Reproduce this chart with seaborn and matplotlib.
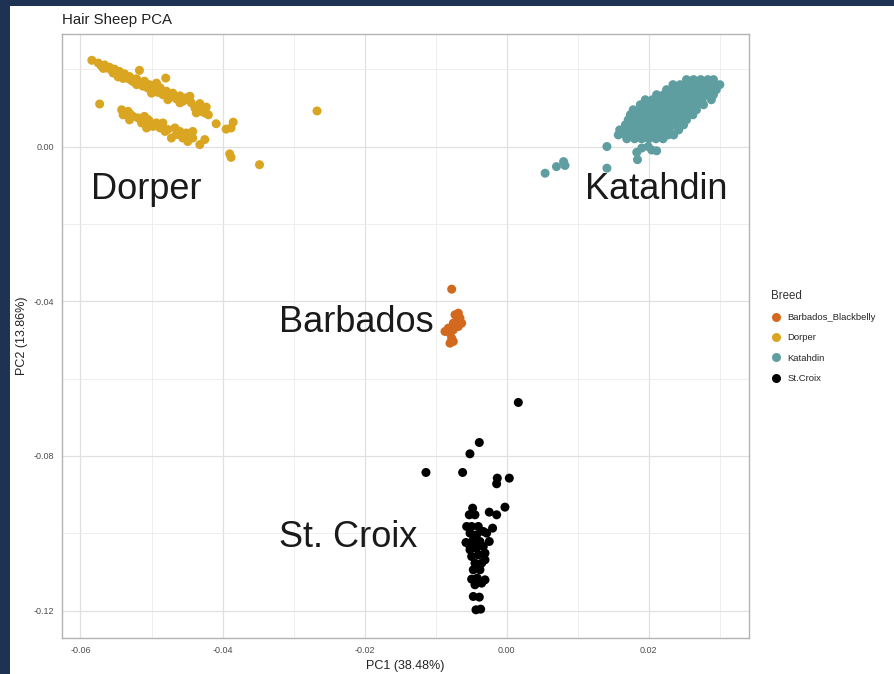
import pandas as pd
import matplotlib
matplotlib.use("Agg")
import matplotlib.pyplot as plt
import seaborn as sns
from matplotlib.patches import Rectangle
from matplotlib.ticker import MultipleLocator

# -----------------------------
# PCA coordinates
# -----------------------------
dorper_pc1 = [-0.0584, -0.0575, -0.0571, -0.0566, -0.0563, -0.0559, -0.0556, -0.0552, -0.0549, -0.0545,
              -0.0542, -0.0538, -0.0535, -0.0531, -0.0526, -0.0524, -0.0521, -0.0517, -0.0517, -0.0512,
              -0.0510, -0.0505, -0.0503, -0.0498, -0.0495, -0.0491, -0.0488, -0.0484, -0.0480, -0.0479,
              -0.0474, -0.0470, -0.0465, -0.0460, -0.0456, -0.0451, -0.0446, -0.0444, -0.0439, -0.0432,
              -0.0430, -0.0423, -0.0420, -0.0425, -0.0437, -0.0547, -0.0521, -0.0500, -0.0477, -0.0460,
              -0.0493, -0.0573,
              -0.0542, -0.0540, -0.0533, -0.0531, -0.0526, -0.0519, -0.0514, -0.0510, -0.0507, -0.0503,
              -0.0498, -0.0493, -0.0488, -0.0484, -0.0481, -0.0477, -0.0472, -0.0467, -0.0465, -0.0460,
              -0.0456, -0.0451, -0.0449, -0.0442, -0.0442, -0.0432, -0.0425, -0.0409, -0.0395, -0.0388,
              -0.0385, -0.0390, -0.0388, -0.0348, -0.0267,
              -0.0568, -0.0554, -0.0540, -0.0529, -0.0514, -0.0486, -0.0470, -0.0454, -0.0530, -0.0505]
dorper_pc2 = [0.0223, 0.0216, 0.0209, 0.0211, 0.0203, 0.0205, 0.0197, 0.0200, 0.0192, 0.0194,
              0.0183, 0.0188, 0.0177, 0.0181, 0.0168, 0.0174, 0.0160, 0.0197, 0.0166, 0.0156,
              0.0169, 0.0151, 0.0160, 0.0147, 0.0156, 0.0140, 0.0152, 0.0134, 0.0177, 0.0143,
              0.0128, 0.0138, 0.0123, 0.0131, 0.0117, 0.0126, 0.0130, 0.0113, 0.0100, 0.0111,
              0.0091, 0.0102, 0.0082, 0.0087, 0.0087, 0.0180, 0.0175, 0.0138, 0.0121, 0.0113,
              0.0164, 0.0110,
              0.0095, 0.0082, 0.0091, 0.0069, 0.0078, 0.0074, 0.0061, 0.0078, 0.0048, 0.0066,
              0.0052, 0.0061, 0.0048, 0.0061, 0.0039, 0.0044, 0.0022, 0.0048, 0.0031, 0.0039,
              0.0022, 0.0035, 0.0013, 0.0039, 0.0022, 0.0005, 0.0018, 0.0059, 0.0045, 0.0048,
              0.0063, -0.0019, -0.0028, -0.0047, 0.0092,
              0.0202, 0.0190, 0.0176, 0.0172, 0.0162, 0.0146, 0.0132, 0.0120, 0.0084, 0.0070]

katahdin_pc1 = [0.0253, 0.0263, 0.0273, 0.0283, 0.0291,
                0.0234, 0.0244, 0.0254, 0.0264, 0.0274, 0.0284, 0.0294, 0.0300,
                0.0225, 0.0235, 0.0245, 0.0255, 0.0265, 0.0275, 0.0285, 0.0295,
                0.0211, 0.0221, 0.0231, 0.0241, 0.0251, 0.0261, 0.0271, 0.0281, 0.0291,
                0.0195, 0.0205, 0.0215, 0.0225, 0.0235, 0.0245, 0.0255, 0.0265, 0.0275, 0.0288,
                0.0188, 0.0198, 0.0208, 0.0218, 0.0228, 0.0238, 0.0248, 0.0258, 0.0268, 0.0277,
                0.0178, 0.0188, 0.0198, 0.0208, 0.0218, 0.0228, 0.0238, 0.0248, 0.0258, 0.0267,
                0.0174, 0.0184, 0.0194, 0.0204, 0.0214, 0.0224, 0.0234, 0.0244, 0.0254, 0.0262,
                0.0171, 0.0181, 0.0191, 0.0201, 0.0211, 0.0221, 0.0231, 0.0241, 0.0253,
                0.0167, 0.0177, 0.0187, 0.0197, 0.0207, 0.0217, 0.0227, 0.0237, 0.0249,
                0.0159, 0.0169, 0.0179, 0.0189, 0.0199, 0.0209, 0.0219, 0.0229, 0.0242,
                0.0157, 0.0167, 0.0177, 0.0187, 0.0197, 0.0207, 0.0217, 0.0227, 0.0235,
                0.0169, 0.0180, 0.0190, 0.0200, 0.0210, 0.0220,
                0.0141, 0.0183, 0.0190, 0.0199, 0.0211, 0.0204, 0.0184, 0.0141, 0.0054, 0.0070,
                0.0080, 0.0082]
katahdin_pc2 = [0.0173] * 5 + [0.0160] * 8 + [0.0147] * 8 + [0.0134] * 9 + [0.0121] * 10 + \
               [0.0108] * 10 + [0.0095] * 10 + [0.0082] * 10 + [0.0069] * 9 + [0.0056] * 9 + \
               [0.0043] * 9 + [0.0030] * 9 + [0.0020] * 6 + \
               [0.0000, -0.0015, -0.0004, 0.0000, -0.0011, -0.0009, -0.0034, -0.0056, -0.0069, -0.0052,
                -0.0039, -0.0049]

barbados_pc1 = [-0.00775, -0.00728, -0.00681, -0.00658, -0.00705, -0.00752, -0.00822, -0.00869,
                -0.00799, -0.00752, -0.00775, -0.00799, -0.00752, -0.00681, -0.00634]
barbados_pc2 = [-0.03688, -0.04352, -0.04309, -0.04438, -0.04525, -0.04568, -0.04697, -0.04783,
                -0.04826, -0.04740, -0.04955, -0.05085, -0.05042, -0.04654, -0.04568]

stcroix_pc1 = [0.00163, -0.00386, -0.00518, -0.01137, -0.00621, -0.00133, 0.00036, -0.00142,
               -0.00025, -0.00480, -0.00527, -0.00447, -0.00246, -0.00142, -0.00564, -0.00494,
               -0.00199, -0.00517, -0.00424, -0.00330, -0.00574, -0.00471, -0.00377, -0.00246,
               -0.00517, -0.00424, -0.00330, -0.00494, -0.00400, -0.00306, -0.00447, -0.00353,
               -0.00471, -0.00377, -0.00494, -0.00415, -0.00306, -0.00447, -0.00353, -0.00471,
               -0.00386, -0.00433, -0.00367, -0.00517, -0.00447, -0.00306, -0.00283, -0.00400]
stcroix_pc2 = [-0.06619, -0.07654, -0.07947, -0.08429, -0.08429, -0.08576, -0.08576, -0.08722,
               -0.09326, -0.09352, -0.09524, -0.09524, -0.09455, -0.09524, -0.09826, -0.09826,
               -0.09869, -0.09998, -0.10041, -0.09955, -0.10240, -0.10171, -0.10214, -0.10214,
               -0.10429, -0.10386, -0.10343, -0.10602, -0.10559, -0.10515, -0.10774, -0.10774,
               -0.10946, -0.10946, -0.11188, -0.11162, -0.11205, -0.11334, -0.11291, -0.11636,
               -0.11653, -0.11981, -0.11964, -0.10343, -0.10257, -0.10688, -0.09998, -0.09826]

breeds = ["Barbados_Blackbelly", "Dorper", "Katahdin", "St.Croix"]
breed_colors = ["#D2691E", "#DAA520", "#5F9EA0", "#000000"]

# big labels on the plot
label_text = ["Dorper", "Katahdin", "Barbados", "St. Croix"]
label_pc1 = [-0.0585, 0.0110, -0.0321, -0.0321]
label_pc2 = [-0.0112, -0.0112, -0.0456, -0.1012]

# -----------------------------
# Build table
# -----------------------------
frames = []
for name, xs, ys in [(breeds[0], barbados_pc1, barbados_pc2),
                     (breeds[1], dorper_pc1, dorper_pc2),
                     (breeds[2], katahdin_pc1, katahdin_pc2),
                     (breeds[3], stcroix_pc1, stcroix_pc2)]:
    frames.append(pd.DataFrame({"PC1": xs, "PC2": ys, "Breed": name}))
df = pd.concat(frames, ignore_index=True)

# -----------------------------
# Plot
# -----------------------------
sns.set_theme(style="white")
plt.rcParams["font.family"] = ["Liberation Sans", "DejaVu Sans"]

fig = plt.figure(figsize=(8.95, 6.74), dpi=100, facecolor="#1E3253")
fig.patches.append(Rectangle((10 / 895, 0), 1 - 10 / 895, 668 / 674, transform=fig.transFigure,
                             facecolor="white", edgecolor="none", zorder=-10))
ax = fig.add_axes([62 / 895, 36 / 674, 687 / 895, 604 / 674])
ax.set_zorder(2)

sns.scatterplot(data=df, x="PC1", y="PC2", hue="Breed", hue_order=breeds,
                palette=dict(zip(breeds, breed_colors)), s=42, linewidth=0, ax=ax, zorder=3)

ax.set_xlim(-0.0626, 0.0341)
ax.set_ylim(-0.1271, 0.0291)
ax.xaxis.set_major_locator(MultipleLocator(0.02))
ax.xaxis.set_minor_locator(MultipleLocator(0.01))
ax.yaxis.set_major_locator(MultipleLocator(0.04))
ax.yaxis.set_minor_locator(MultipleLocator(0.02))
ax.xaxis.set_major_formatter(lambda v, p: f"{v:.2f}")
ax.yaxis.set_major_formatter(lambda v, p: f"{v:.2f}")
ax.grid(True, which="major", color="#E0E0E0", linewidth=0.9, zorder=0)
ax.grid(True, which="minor", color="#EBEBEB", linewidth=0.6, zorder=0)
ax.set_axisbelow(True)
for sp in ax.spines.values():
    sp.set_color("#B3B3B3")
    sp.set_linewidth(1.0)
ax.tick_params(axis="both", which="major", length=3, width=0.8, color="#B3B3B3",
               labelsize=6.5, labelcolor="#4D4D4D", pad=3)
ax.tick_params(axis="both", which="minor", length=0)

ax.set_xlabel("PC1 (38.48%)", fontsize=9, color="#222222", labelpad=3)
ax.set_ylabel("PC2 (13.86%)", fontsize=9, color="#222222", labelpad=4)
ax.set_title("Hair Sheep PCA", loc="left", fontsize=10.8, color="#222222", pad=7)

for t, x, y in zip(label_text, label_pc1, label_pc2):
    ax.text(x, y, t, fontsize=26, color="#1a1a1a", ha="left", va="center", zorder=4)

leg = ax.legend(title="Breed", loc="upper left", bbox_to_anchor=(766 / 895, 1 - 285 / 674),
                bbox_transform=fig.transFigure, frameon=False, fontsize=6.8, title_fontsize=8.3,
                borderpad=0, handletextpad=0.6, labelspacing=1.2, markerscale=1.0,
                handlelength=1.2)
leg._legend_box.align = "left"
leg._legend_box.sep = 8
leg.get_title().set_color("#333333")

fig.savefig("out.png", dpi=100, facecolor=fig.get_facecolor())
